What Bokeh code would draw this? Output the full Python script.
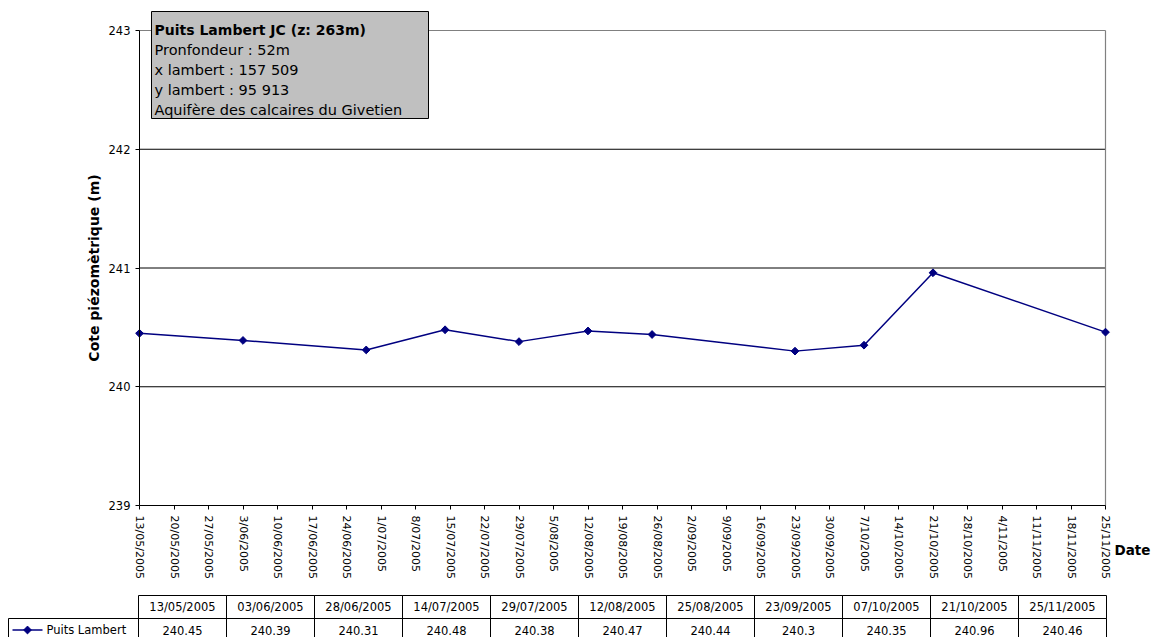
from datetime import datetime

from bokeh.core.properties import value
from bokeh.embed import file_html
from bokeh.models import (BoxAnnotation, ColumnDataSource, DatetimeAxis, FixedTicker,
                          Label, LinearAxis, Range1d)
from bokeh.plotting import figure
from bokeh.resources import INLINE

# ---- data -----------------------------------------------------------------
sample_dates = ["13/05/2005", "03/06/2005", "28/06/2005", "14/07/2005", "29/07/2005",
                "12/08/2005", "25/08/2005", "23/09/2005", "07/10/2005", "21/10/2005",
                "25/11/2005"]
levels = [240.45, 240.39, 240.31, 240.48, 240.38, 240.47, 240.44, 240.3, 240.35,
          240.96, 240.46]
series_name = "Puits Lambert"

x_tick_labels = ["13/05/2005", "20/05/2005", "27/05/2005", "3/06/2005", "10/06/2005",
                 "17/06/2005", "24/06/2005", "1/07/2005", "8/07/2005", "15/07/2005",
                 "22/07/2005", "29/07/2005", "5/08/2005", "12/08/2005", "19/08/2005",
                 "26/08/2005", "2/09/2005", "9/09/2005", "16/09/2005", "23/09/2005",
                 "30/09/2005", "7/10/2005", "14/10/2005", "21/10/2005", "28/10/2005",
                 "4/11/2005", "11/11/2005", "18/11/2005", "25/11/2005"]
y_ticks = [239, 240, 241, 242, 243]
grid_levels = [240, 241, 242]

box_title = "Puits Lambert JC (z: 263m)"
box_lines = ["Pronfondeur : 52m", "x lambert : 157 509", "y lambert : 95 913",
             "Aquifère des calcaires du Givetien"]

FONT = "DejaVu Sans"
NAVY = "#000080"
BORDER_GREY = "#808080"

# ---- page geometry (pixels) ---------------------------------------------------
W, H = 1152, 637
PLOT_L, PLOT_R, PLOT_T, PLOT_B = 139, 1105, 30, 505
COL_PX, ROW_PX = 88.0, 23.0
TABLE_L, TABLE_T = 138, 595
LEGEND_L = 8


def to_ms(label):
    d = datetime.strptime(label, "%d/%m/%Y")
    return int((d - datetime(1970, 1, 1)).total_seconds() * 1000)


x_ms = [to_ms(s) for s in sample_dates]
tick_ms = [to_ms(s) for s in x_tick_labels]
x0, x1 = tick_ms[0], tick_ms[-1]
y0, y1 = y_ticks[0], y_ticks[-1]

# the frame fills the whole page; ranges are padded so the chart area sits at PLOT_*
sx = (PLOT_R - PLOT_L) / (x1 - x0)
sy = (PLOT_B - PLOT_T) / (y1 - y0)
x_range = Range1d(x0 - PLOT_L / sx, x1 + (W - PLOT_R) / sx)
y_range = Range1d(y0 - (H - PLOT_B) / sy, y1 + PLOT_T / sy)

p = figure(width=W, height=H, x_range=x_range, y_range=y_range,
           x_axis_location=None, y_axis_location=None,
           min_border=0, min_border_left=0, min_border_right=0,
           min_border_top=0, min_border_bottom=0,
           output_backend="svg", toolbar_location=None)
p.background_fill_color = "white"
p.border_fill_color = "white"
p.outline_line_color = None
p.grid.visible = False

# table coordinates: one unit per column / row
n = len(sample_dates)
p.extra_x_ranges = {"tbl": Range1d(-TABLE_L / COL_PX, (W - TABLE_L) / COL_PX)}
p.extra_y_ranges = {"tbl": Range1d(2 - (H - TABLE_T) / ROW_PX, 2 + TABLE_T / ROW_PX)}

# horizontal grid lines across the chart area
p.segment(x0=[x0] * len(grid_levels), y0=grid_levels, x1=[x1] * len(grid_levels),
          y1=grid_levels, line_color="black", line_width=1)

# top and right border of the chart area
p.segment(x0=[x0, x1], y0=[y1, y0], x1=[x1, x1], y1=[y1, y1],
          line_color=BORDER_GREY, line_width=1.2)

# series
src = ColumnDataSource(dict(x=x_ms, y=levels))
p.line("x", "y", source=src, line_color=NAVY, line_width=1.5)
p.scatter("x", "y", source=src, marker="square", angle=0.785398, size=5.5,
          fill_color=NAVY, line_color=NAVY)

# x axis
xa = DatetimeAxis(fixed_location=y0, bounds=(x0, x1))
xa.ticker = FixedTicker(ticks=tick_ms)
xa.major_label_overrides = {t: s for t, s in zip(tick_ms, x_tick_labels)}
xa.major_label_orientation = "vertical"
xa.major_label_text_font = FONT
xa.major_label_text_font_size = "11px"
xa.major_label_text_color = "black"
xa.major_label_standoff = 6
xa.major_tick_out = 4
xa.major_tick_in = 0
xa.minor_tick_line_color = None
xa.axis_line_color = "black"
xa.major_tick_line_color = "black"
p.add_layout(xa, "below")

# y axis
ya = LinearAxis(fixed_location=x0, bounds=(y0, y1))
ya.ticker = FixedTicker(ticks=y_ticks)
ya.major_label_text_font = FONT
ya.major_label_text_font_size = "11.5px"
ya.major_label_text_color = "black"
ya.major_label_standoff = 5
ya.major_tick_out = 4
ya.major_tick_in = 0
ya.minor_tick_line_color = None
ya.axis_line_color = "black"
ya.major_tick_line_color = "black"
ya.axis_label = "Cote piézomètrique (m)"
ya.axis_label_text_font = FONT
ya.axis_label_text_font_size = "14px"
ya.axis_label_text_font_style = "bold"
ya.axis_label_text_color = "black"
ya.axis_label_standoff = 4
p.add_layout(ya, "left")

p.add_layout(Label(x=1114, y=549, x_units="canvas", y_units="canvas", text="Date",
                   text_font=FONT, text_font_size="13.5px", text_font_style="bold",
                   text_color="black", text_align="left", text_baseline="middle"))

# information box
p.add_layout(BoxAnnotation(left=151, right=428, top=11, bottom=118,
                           left_units="canvas", right_units="canvas",
                           top_units="canvas", bottom_units="canvas",
                           fill_color="#C0C0C0", fill_alpha=1.0,
                           line_color="black", line_width=1, line_alpha=1.0))
for i, txt in enumerate([box_title] + box_lines):
    p.add_layout(Label(x=154, y=29 + 20.2 * i, x_units="canvas", y_units="canvas", text=txt,
                       text_font=FONT, text_font_size="14px" if i == 0 else "14.5px",
                       text_font_style="bold" if i == 0 else "normal",
                       text_color="black", text_align="left", text_baseline="alphabetic"))

# ---- data table -----------------------------------------------------------------
tbl = dict(x_range_name="tbl", y_range_name="tbl")
cols = list(range(n))
p.quad(left=cols, right=[c + 1 for c in cols], top=[2] * n, bottom=[1] * n,
       fill_color=None, line_color="black", line_width=1, **tbl)
p.quad(left=cols, right=[c + 1 for c in cols], top=[1] * n, bottom=[0] * n,
       fill_color=None, line_color="black", line_width=1, **tbl)
leg_left = -(TABLE_L - LEGEND_L) / COL_PX
p.quad(left=[leg_left], right=[0], top=[1], bottom=[0],
       fill_color=None, line_color="black", line_width=1, **tbl)

p.text(x=[c + 0.5 for c in cols], y=[1.5] * n, text=sample_dates,
       text_font=value(FONT), text_font_size="11.5px", text_color="black",
       text_align="center", text_baseline="middle", **tbl)
p.text(x=[c + 0.5 for c in cols], y=[0.5] * n, text=[f"{v:g}" for v in levels],
       text_font=value(FONT), text_font_size="11.5px", text_color="black",
       text_align="center", text_baseline="middle", **tbl)

# legend key inside the first cell
kx0 = leg_left + 4 / COL_PX
kx1 = leg_left + 34 / COL_PX
p.line(x=[kx0, kx1], y=[0.5, 0.5], line_color=NAVY, line_width=1.5, **tbl)
p.scatter(x=[(kx0 + kx1) / 2], y=[0.5], marker="square", angle=0.785398, size=5.5,
          fill_color=NAVY, line_color=NAVY, **tbl)
p.text(x=[leg_left + 38 / COL_PX], y=[0.5], text=[series_name],
       text_font=value(FONT), text_font_size="11.5px", text_color="black",
       text_align="left", text_baseline="middle", **tbl)

open("out.html", "w").write(file_html(p, INLINE))
